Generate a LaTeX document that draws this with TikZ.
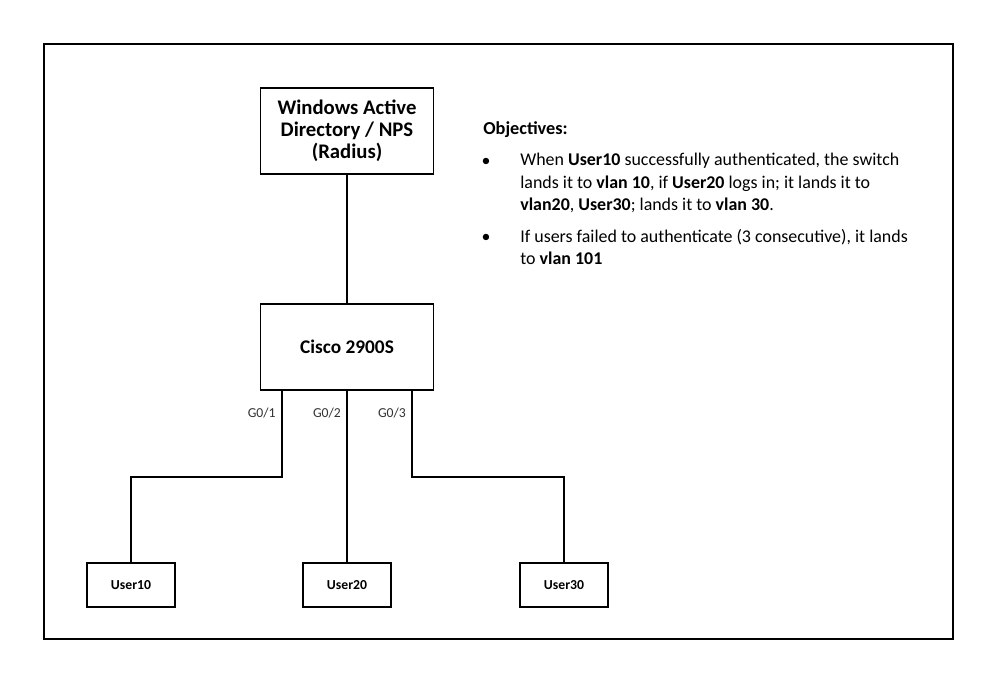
\documentclass[tikz,border=0pt]{standalone}
\usepackage{fontspec}
\setmainfont{Carlito}
\usetikzlibrary{positioning}
\begin{document}
\begin{tikzpicture}[x=0.02cm, y=-0.02cm,
    box/.style={draw, line width=1.1pt, align=center, inner sep=0pt,
                font=\fontsize{11}{12.5}\selectfont\bfseries},
    bigbox/.style={box, minimum width=3.46cm, minimum height=1.72cm},
    userbox/.style={box, minimum width=1.76cm, minimum height=0.88cm,
                font=\fontsize{7.8}{9}\selectfont\bfseries},
    link/.style={line width=1.1pt},
    port/.style={font=\fontsize{7.8}{9}\selectfont, text=black!80, inner sep=0pt},
    obj/.style={font=\fontsize{10.2}{12.8}\selectfont, inner sep=0pt, align=left}
  ]
  \useasboundingbox (0,0) rectangle (998,684);
  % Outer frame
  \draw[line width=1.2pt] (44,44) rectangle (953,639);
  % Server and switch
  \node[bigbox, font=\fontsize{11.8}{12.6}\selectfont\bfseries] (ad) at (347,131)
    {Windows Active\\Directory / NPS\\(Radius)};
  \node[bigbox] (sw) at (347,347) {Cisco 2900S};
  % Users
  \node[userbox] (u10) at (131,585) {User10};
  \node[userbox] (u20) at (347,585) {User20};
  \node[userbox] (u30) at (564,585) {User30};
  % Links
  \coordinate (j10) at (131,477);
  \coordinate (j30) at (564,477);
  \draw[link] (ad) -- (sw);
  \draw[link] ([xshift=-1.3cm]sw.south) |- (j10) -- (u10.north);
  \draw[link] (sw) -- (u20);
  \draw[link] ([xshift=1.3cm]sw.south) |- (j30) -- (u30.north);
  % Port labels
  \node[port, anchor=east] (g1) at (276,413) {G0/1};
  \node[port] (g2) at (327,413) {G0/2};
  \node[port] (g3) at (392,413) {G0/3};
  % Objectives
  \node[obj, anchor=base west, font=\fontsize{10.4}{12.8}\selectfont\bfseries] (objt) at (483,134) {Objectives:};
  \node[obj] (b1) at (486,162) {\textbullet};
  \node[obj] (b2) at (486,238) {\textbullet};
  \node[obj, anchor=north west] (o1) at (520,153)
    {When \textbf{User10} successfully authenticated, the switch\\
     lands it to \textbf{vlan 10}, if \textbf{User20} logs in; it lands it to\\
     \textbf{vlan20}, \textbf{User30}; lands it to \textbf{vlan 30}.};
  \node[obj, anchor=north west] (o2) at (520,229)
    {If users failed to authenticate (3 consecutive), it lands\\
     to \textbf{vlan 101}};
\end{tikzpicture}
\end{document}
